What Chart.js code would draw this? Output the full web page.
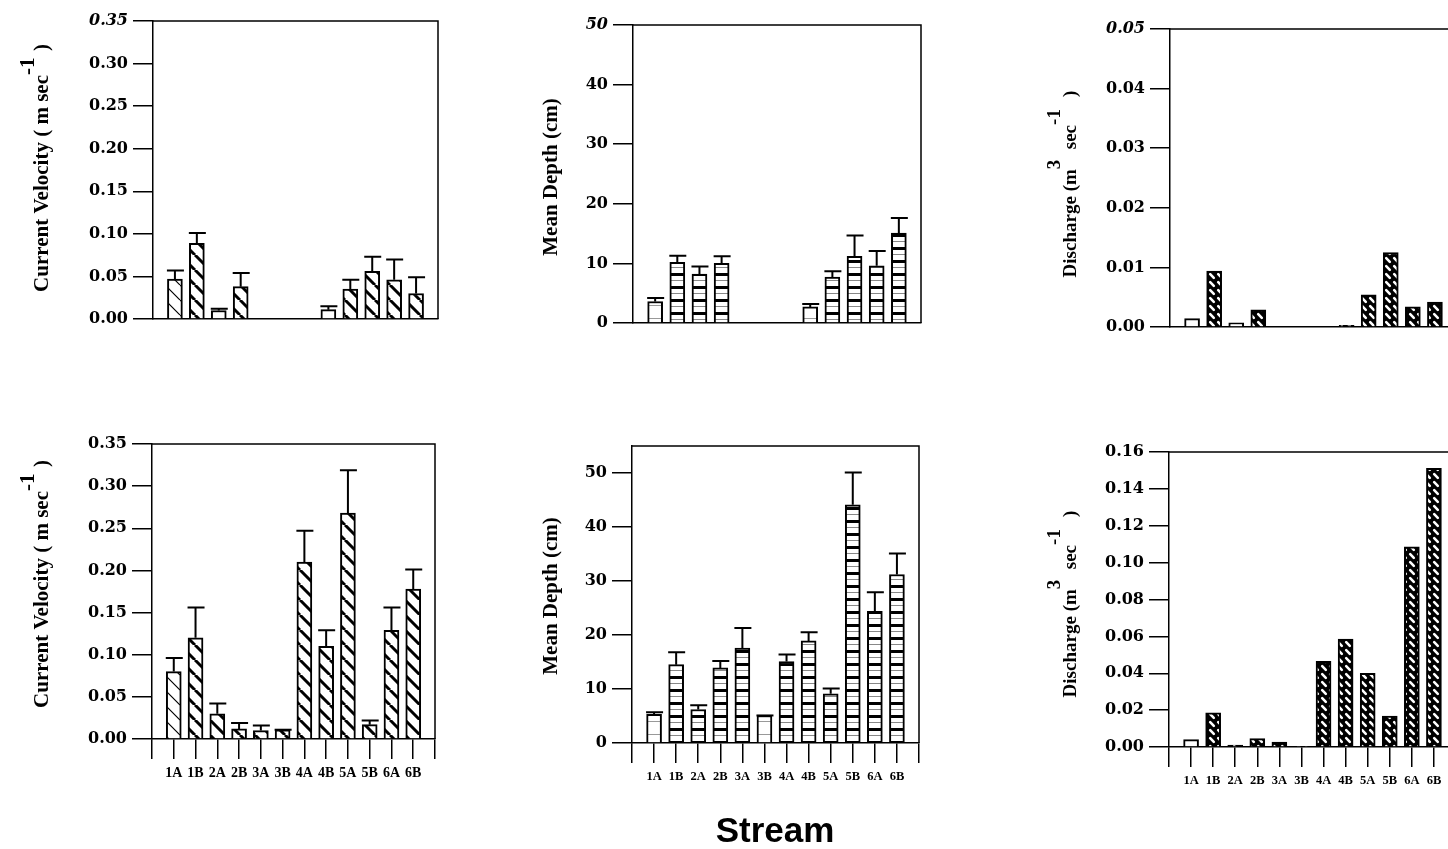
<!DOCTYPE html>
<html>
<head>
<meta charset="utf-8">
<script src="https://cdn.jsdelivr.net/npm/chart.js@4.4.0/dist/chart.umd.min.js"></script>
<style>
  html, body { margin: 0; padding: 0; background: #fff; }
  #wrap { position: relative; width: 1448px; height: 849px; overflow: hidden; background: #fff; }
  #wrap canvas { position: absolute; left: 0; top: 0; }
  #stream { position: absolute; left: 675px; width: 200px; top: 810px; text-align: center;
            font: bold 35px "Liberation Sans", Arial, sans-serif; color: #000; }
</style>
</head>
<body>
<div id="wrap">
  <canvas id="c1" width="1500" height="849"></canvas>
  <canvas id="c2" width="1500" height="849"></canvas>
  <canvas id="c3" width="1500" height="849"></canvas>
  <canvas id="c4" width="1500" height="849"></canvas>
  <canvas id="c5" width="1500" height="849"></canvas>
  <canvas id="c6" width="1500" height="849"></canvas>
  <div id="stream">Stream</div>
</div>
<script>
// Estaciones (eje x)
const estaciones = ['1A', '1B', '2A', '2B', '3A', '3B', '4A', '4B', '5A', '5B', '6A', '6B'];

// Fila superior
const velocidad1    = [0.047, 0.089, 0.010, 0.038, null, null, null, 0.011, 0.035, 0.056, 0.046, 0.030];
const velocidad1Err = [0.057, 0.101, 0.012, 0.054, null, null, null, 0.015, 0.046, 0.073, 0.070, 0.049];
const profundidad1    = [3.6, 10.2, 8.2, 10.0, null, null, null, 2.7, 7.7, 11.2, 9.6, 15.1];
const profundidad1Err = [4.2, 11.3, 9.5, 11.2, null, null, null, 3.2, 8.7, 14.7, 12.1, 17.6];
const caudal1 = [0.0014, 0.0094, 0.0007, 0.0029, null, null, null, 0.0003, 0.0054, 0.0125, 0.0034, 0.0042];

// Fila inferior
const velocidad2    = [0.080, 0.120, 0.030, 0.012, 0.010, 0.011, 0.210, 0.110, 0.268, 0.017, 0.129, 0.178];
const velocidad2Err = [0.096, 0.156, 0.042, 0.019, 0.016, 0.011, 0.247, 0.129, 0.319, 0.022, 0.156, 0.201];
const profundidad2    = [5.3, 14.5, 6.2, 13.9, 17.6, 5.1, 15.1, 18.9, 9.1, 44.1, 24.4, 31.2];
const profundidad2Err = [5.7, 16.8, 7.0, 15.2, 21.3, 5.1, 16.4, 20.5, 10.1, 50.1, 27.9, 35.1];
const caudal2 = [0.0040, 0.0185, 0.0010, 0.0045, 0.0027, 0.0004, 0.0465, 0.0585, 0.0400, 0.0168, 0.1085, 0.1512];

// Ejes y
const ticksVelocidad = { max: 0.35, paso: 0.05, dec: 2 };
const ticksProf1 = { max: 50, paso: 10, dec: 0 };
const ticksProf2 = { max: 55, paso: 10, dec: 0, ultimo: 50 };
const ticksCaudal1 = { max: 0.05, paso: 0.01, dec: 2 };
const ticksCaudal2 = { max: 0.16, paso: 0.02, dec: 2 };

// Tramas de relleno (como en la figura impresa)
function crearTrama(tipo) {
  const c = document.createElement('canvas');
  let g;
  if (tipo === 'diag' || tipo === 'diagFina') {
    const s = 15;
    c.width = s; c.height = s;
    g = c.getContext('2d');
    g.fillStyle = '#fff'; g.fillRect(0, 0, s, s);
    g.strokeStyle = '#000';
    g.lineWidth = tipo === 'diag' ? 3 : 1.2;
    g.beginPath();
    for (const o of [-s, 0, s]) { g.moveTo(o, 0); g.lineTo(o + s, s); }
    g.stroke();
  } else if (tipo === 'franjas' || tipo === 'franjasFinas') {
    c.width = 16; c.height = 13;
    g = c.getContext('2d');
    g.fillStyle = '#fff'; g.fillRect(0, 0, 16, 13);
    if (tipo === 'franjas') {
      g.fillStyle = '#000'; g.fillRect(0, 0, 16, 3);
      g.fillStyle = '#888'; g.fillRect(0, 7, 16, 1);
    } else {
      g.fillStyle = '#999'; g.fillRect(0, 6, 16, 1);
    }
  } else if (tipo === 'cruzada') {
    const s = 8;
    c.width = s; c.height = s;
    g = c.getContext('2d');
    g.fillStyle = '#000'; g.fillRect(0, 0, s, s);
    g.strokeStyle = '#fff'; g.lineWidth = 2.6; g.lineCap = 'round';
    g.beginPath(); g.moveTo(2.2, 2.2); g.lineTo(5.8, 5.8); g.stroke();
  } else {
    c.width = 4; c.height = 4;
    g = c.getContext('2d');
    g.fillStyle = '#fff'; g.fillRect(0, 0, 4, 4);
  }
  return g.createPattern(c, 'repeat');
}

// Barras de error (solo hacia arriba)
const barrasError = {
  id: 'barrasError',
  afterDatasetsDraw(chart, args, opts) {
    const errs = opts.valores;
    if (!errs) return;
    const ctx = chart.ctx;
    const y = chart.scales.y;
    const meta = chart.getDatasetMeta(0);
    ctx.save();
    ctx.strokeStyle = '#000';
    ctx.lineWidth = 2;
    meta.data.forEach((bar, i) => {
      const e = errs[i];
      if (e == null || chart.data.datasets[0].data[i] == null) return;
      const yCap = y.getPixelForValue(e);
      ctx.beginPath();
      ctx.moveTo(bar.x, bar.y);
      ctx.lineTo(bar.x, yCap);
      ctx.moveTo(bar.x - 8, yCap);
      ctx.lineTo(bar.x + 9, yCap);
      ctx.stroke();
    });
    ctx.restore();
  }
};

// Marco superior y derecho
const marco = {
  id: 'marco',
  afterDraw(chart) {
    const { ctx, chartArea: a } = chart;
    ctx.save();
    ctx.strokeStyle = '#000';
    ctx.lineWidth = 1.5;
    ctx.beginPath();
    ctx.moveTo(a.left, a.top);
    ctx.lineTo(a.right, a.top);
    ctx.lineTo(a.right, a.bottom);
    ctx.stroke();
    ctx.restore();
  }
};

// Titulo del eje y con superindices
const tituloY = {
  id: 'tituloY',
  afterDraw(chart, args, o) {
    if (!o.partes) return;
    const ctx = chart.ctx;
    const fuente = 'bold ' + o.size + 'px "Liberation Serif", "Times New Roman", serif';
    ctx.save();
    ctx.translate(o.x, o.y);
    ctx.rotate(-Math.PI / 2);
    ctx.fillStyle = '#000';
    ctx.textBaseline = 'alphabetic';
    ctx.font = fuente;
    let total = 0;
    o.partes.forEach(p => { total += p.avance != null ? p.avance : ctx.measureText(p.t).width; });
    let pos = -total / 2;
    o.partes.forEach(p => {
      const w = p.avance != null ? p.avance : ctx.measureText(p.t).width;
      ctx.fillText(p.t, pos, p.sup ? -o.subida : 0);
      pos += w;
    });
    ctx.restore();
  }
};

function rellenar(arr) { return [null, ...arr, null]; }

function crearPanel(id, cfg) {
  const W = 1500, H = 849;
  const anchoY = 70;
  const altoX = cfg.etiquetas ? 50 : 0;
  const t = cfg.ticks;
  const ultimo = t.ultimo != null ? t.ultimo : t.max;
  const fondos = rellenar(cfg.tramas.map(crearTrama));

  new Chart(document.getElementById(id), {
    type: 'bar',
    data: {
      labels: rellenar(estaciones).map(e => e || ''),
      datasets: [{
        data: rellenar(cfg.datos),
        backgroundColor: fondos,
        borderColor: '#000',
        borderWidth: 2,
        barThickness: 15
      }]
    },
    options: {
      responsive: false,
      animation: false,
      layout: {
        padding: {
          left: cfg.area.left - anchoY,
          right: W - cfg.area.right,
          top: cfg.area.top,
          bottom: H - cfg.area.bottom - altoX
        }
      },
      scales: {
        x: {
          type: 'category',
          offset: false,
          afterFit: s => { s.height = altoX; },
          ticks: {
            display: cfg.etiquetas,
            autoSkip: false,
            maxRotation: 0,
            minRotation: 0,
            padding: 6,
            color: '#000',
            font: { family: '"Liberation Serif", "Times New Roman", serif', weight: 'bold', size: cfg.tamEtiqueta || 14 }
          },
          grid: {
            display: true,
            offset: false,
            drawOnChartArea: false,
            drawTicks: cfg.etiquetas,
            tickLength: 20,
            color: '#000',
            lineWidth: 1.5
          },
          border: { display: true, color: '#000', width: 1.5 }
        },
        y: {
          min: 0,
          max: t.max,
          afterFit: s => { s.width = anchoY; },
          afterBuildTicks: s => { s.ticks = s.ticks.filter(k => k.value <= ultimo + 1e-9); },
          ticks: {
            stepSize: t.paso,
            padding: 5,
            color: '#000',
            callback: v => Number(v).toFixed(t.dec),
            font: c => ({
              family: '"DejaVu Serif", serif',
              size: 16,
              weight: 'bold',
              style: (cfg.cursiva && c.tick && Math.abs(c.tick.value - t.max) < 1e-9) ? 'italic' : 'normal'
            })
          },
          grid: {
            drawOnChartArea: false,
            drawTicks: true,
            tickLength: 20,
            color: '#000',
            lineWidth: 1.5
          },
          border: { display: true, color: '#000', width: 1.5 }
        }
      },
      plugins: {
        legend: { display: false },
        tooltip: { enabled: false },
        barrasError: { valores: cfg.errores ? rellenar(cfg.errores) : null },
        tituloY: cfg.titulo
      }
    },
    plugins: [barrasError, marco, tituloY]
  });
}

const tituloVel = [
  { t: 'Current Velocity ( m sec' },
  { t: '-1', sup: true, avance: 24 },
  { t: ')' }
];
const tituloProf = [{ t: 'Mean Depth (cm)' }];
const tituloCaudal = [
  { t: 'Discharge (m' },
  { t: '3', sup: true, avance: 20 },
  { t: 'sec' },
  { t: '-1', sup: true, avance: 28 },
  { t: ')' }
];

const diagVel1 = ['diagFina', 'diag', 'blanco', 'diag', 'diag', 'diag', 'diag', 'blanco', 'diag', 'diag', 'diag', 'diag'];
const diagVel2 = ['diagFina', 'diag', 'diag', 'diag', 'diag', 'diag', 'diag', 'diag', 'diag', 'diag', 'diag', 'diag'];
const franjas1 = ['franjasFinas', 'franjas', 'franjas', 'franjas', 'franjas', 'franjas', 'franjas', 'franjasFinas', 'franjas', 'franjas', 'franjas', 'franjas'];
const franjas2 = ['franjasFinas', 'franjas', 'franjas', 'franjas', 'franjas', 'franjasFinas', 'franjas', 'franjas', 'franjas', 'franjas', 'franjas', 'franjas'];
const cruz1 = ['blanco', 'cruzada', 'blanco', 'cruzada', 'cruzada', 'cruzada', 'cruzada', 'cruzada', 'cruzada', 'cruzada', 'cruzada', 'cruzada'];
const cruz2 = ['blanco', 'cruzada', 'cruzada', 'cruzada', 'cruzada', 'cruzada', 'cruzada', 'cruzada', 'cruzada', 'cruzada', 'cruzada', 'cruzada'];

crearPanel('c1', {
  area: { left: 153, right: 438, top: 21, bottom: 319 },
  ticks: ticksVelocidad, cursiva: true, etiquetas: false,
  datos: velocidad1, errores: velocidad1Err, tramas: diagVel1,
  titulo: { partes: tituloVel, x: 48, y: 168, size: 21, subida: 14 }
});
crearPanel('c2', {
  area: { left: 633, right: 921, top: 25, bottom: 323 },
  ticks: ticksProf1, cursiva: true, etiquetas: false,
  datos: profundidad1, errores: profundidad1Err, tramas: franjas1,
  titulo: { partes: tituloProf, x: 557, y: 177, size: 21, subida: 14 }
});
crearPanel('c3', {
  area: { left: 1170, right: 1457, top: 29, bottom: 327 },
  ticks: ticksCaudal1, cursiva: true, etiquetas: false,
  datos: caudal1, errores: null, tramas: cruz1,
  titulo: { partes: tituloCaudal, x: 1076, y: 184, size: 19, subida: 16 }
});
crearPanel('c4', {
  area: { left: 152, right: 435, top: 444, bottom: 739 },
  ticks: ticksVelocidad, cursiva: false, etiquetas: true, tamEtiqueta: 14,
  datos: velocidad2, errores: velocidad2Err, tramas: diagVel2,
  titulo: { partes: tituloVel, x: 48, y: 584, size: 21, subida: 14 }
});
crearPanel('c5', {
  area: { left: 632, right: 919, top: 446, bottom: 743 },
  ticks: ticksProf2, cursiva: false, etiquetas: true, tamEtiqueta: 12.5,
  datos: profundidad2, errores: profundidad2Err, tramas: franjas2,
  titulo: { partes: tituloProf, x: 557, y: 596, size: 21, subida: 14 }
});
crearPanel('c6', {
  area: { left: 1169, right: 1456, top: 452, bottom: 747 },
  ticks: ticksCaudal2, cursiva: false, etiquetas: true, tamEtiqueta: 12.5,
  datos: caudal2, errores: null, tramas: cruz2,
  titulo: { partes: tituloCaudal, x: 1076, y: 604, size: 19, subida: 16 }
});
</script>
</body>
</html>
